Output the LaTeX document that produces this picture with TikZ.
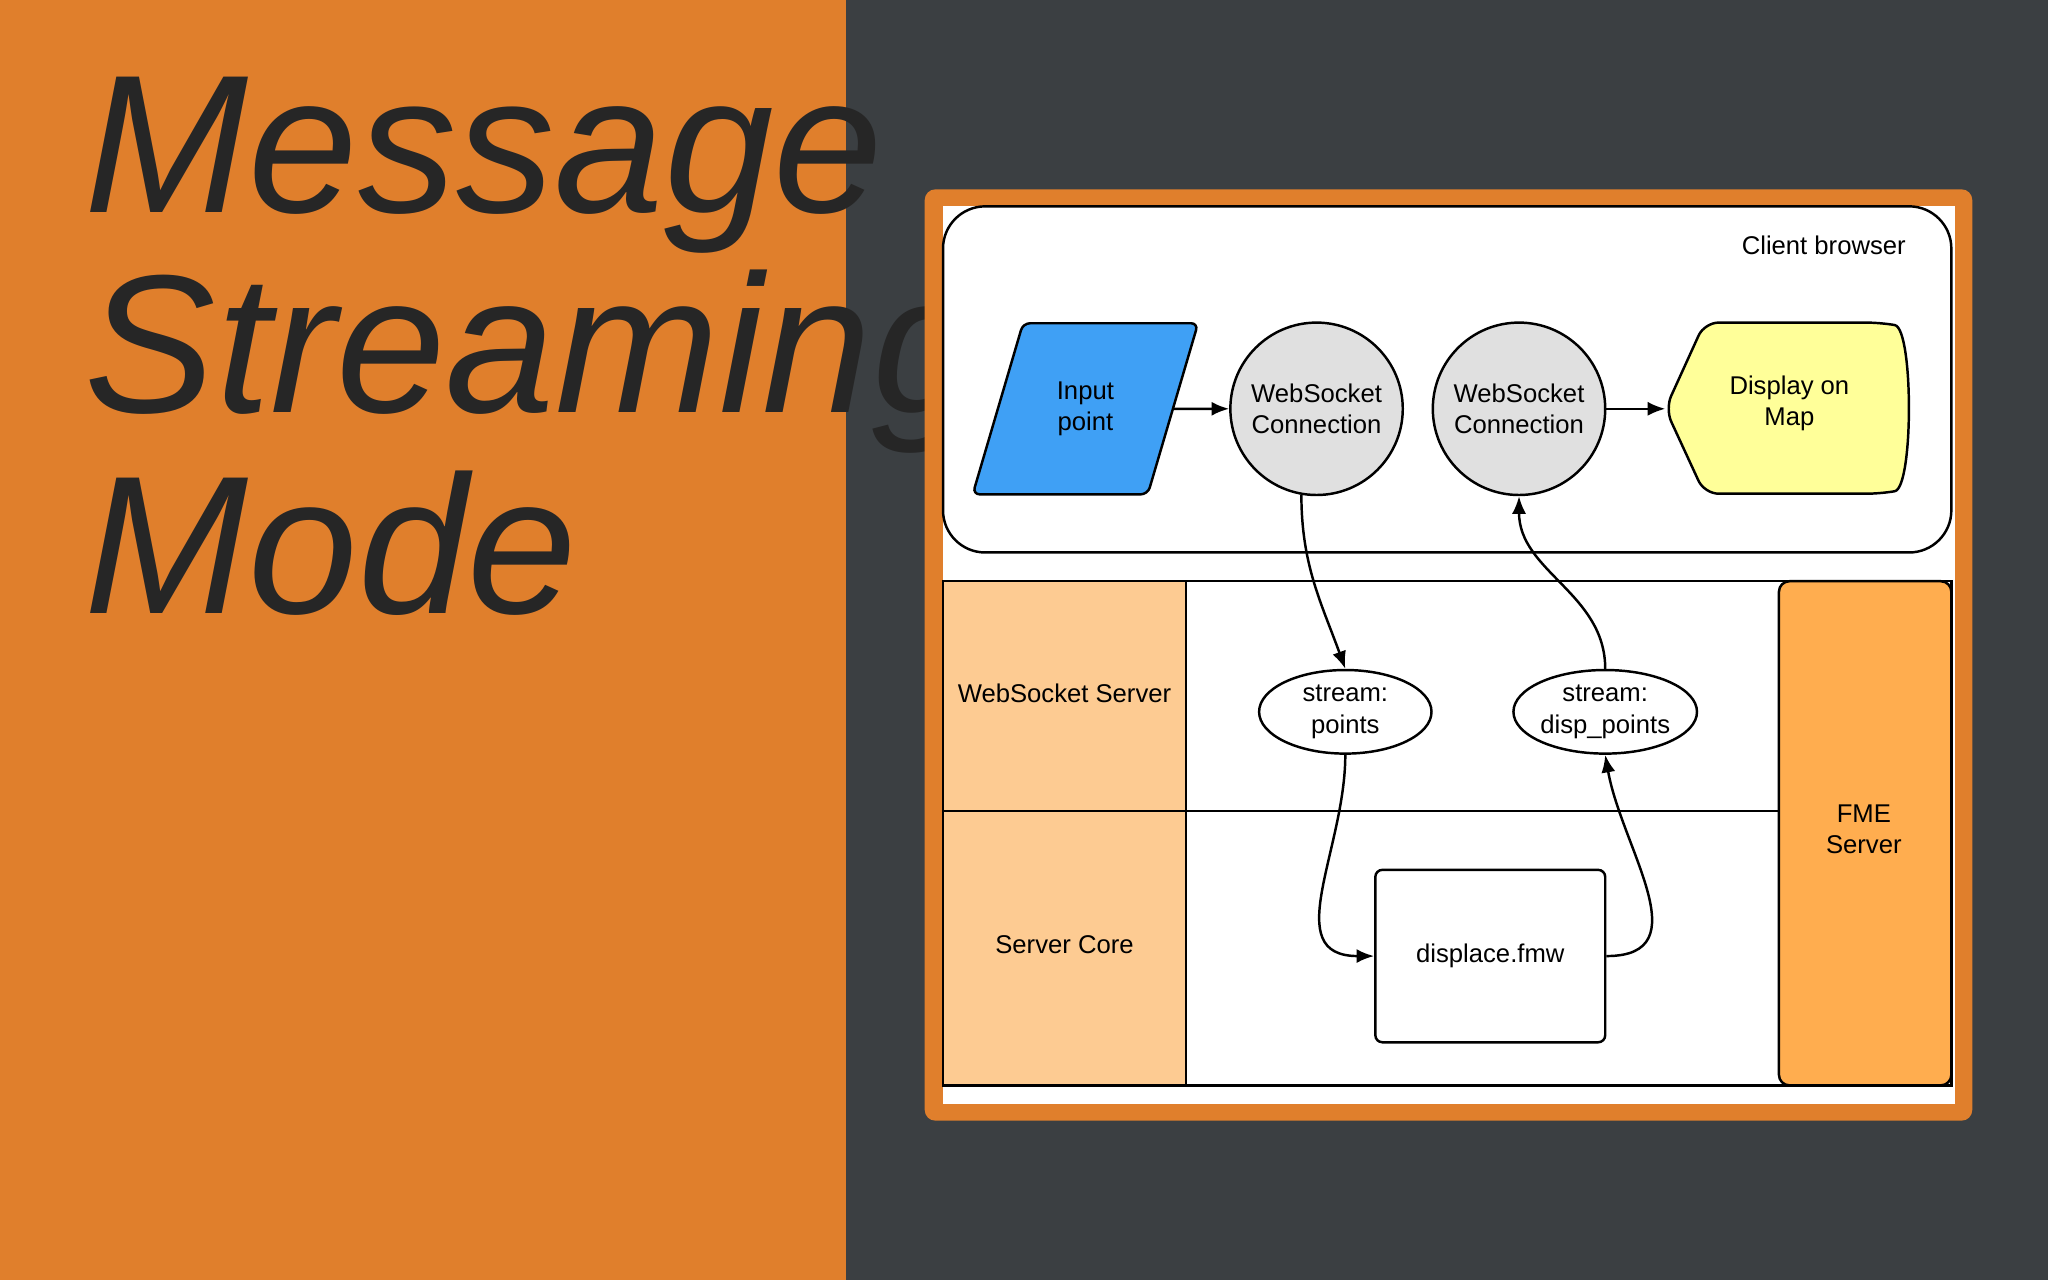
\documentclass[tikz,border=0pt]{standalone}
\usepackage{fontspec}
\setmainfont{Liberation Sans}
\usetikzlibrary{shapes.geometric,arrows.meta}
\definecolor{slideorange}{HTML}{E07F2C}
\definecolor{slidedark}{HTML}{3B3F42}
\definecolor{inputblue}{HTML}{3FA0F5}
\definecolor{conngray}{HTML}{E0E0E0}
\definecolor{mapyellow}{HTML}{FFFF99}
\definecolor{lanelight}{HTML}{FDCB92}
\definecolor{fmeorange}{HTML}{FFAD4F}
\newcommand{\px}{0.01306cm}

\begin{document}
\begin{tikzpicture}[x=\px, y=-\px, line width=0.7pt,
    txt/.style={font=\fontsize{7.3}{8.9}\selectfont, align=center},
    conn/.style={draw, circle, fill=conngray, minimum size=132*\px, inner sep=0pt, txt},
    stream/.style={draw, ellipse, fill=white, minimum width=132*\px, minimum height=64*\px, inner sep=0pt, txt},
    flow/.style={-{Latex[length=5pt,width=4pt]}}]
    \useasboundingbox (0,0) rectangle (1568,980);
    % Background
    \fill[slideorange] (0,0) rectangle (648,980);
    \fill[slidedark] (648,0) rectangle (1568,980);
    \node[anchor=west, text=black!85, font=\fontsize{56}{57}\selectfont\itshape, align=left] (title) at (55,265) {Message\\Streaming\\Mode};

    % Frame
    \fill[slideorange, rounded corners=3pt] (708,145) rectangle (1510,858);
    \fill[white] (722,158) rectangle (1497,845);

    % Client browser
    \draw[rounded corners=12pt] (722,158) rectangle (1494,423);
    \node[txt, anchor=east] (client) at (1469,188) {Client browser};
    \node[draw, trapezium, trapezium left angle=67, trapezium right angle=113, fill=inputblue, minimum width=173*\px, minimum height=131*\px, trapezium stretches=true, rounded corners=2pt, inner sep=0pt, txt] (input) at (831,313) {Input\\point};
    \node[conn] (ws1) at (1008,313) {WebSocket\\Connection};
    \node[conn] (ws2) at (1163,313) {WebSocket\\Connection};
    \draw[fill=mapyellow, rounded corners=4pt] (1275,313) -- (1305,247) -- (1440,247) to[out=-10,in=10,looseness=0.5] (1440,378) -- (1305,378) -- cycle;
    \node[txt] (map) at (1370,309) {Display on\\Map};
    \coordinate (mapin) at (1275,313);

    % Server lanes
    \fill[lanelight] (722,445) rectangle (908,831);
    \draw (722,445) rectangle (1494,831);
    \draw (908,445) -- (908,831);
    \draw (722,621) -- (1362,621);
    \draw[fill=fmeorange, rounded corners=3pt] (1362,445) rectangle (1494,831);
    \node[txt] (wss) at (815,531) {WebSocket Server};
    \node[txt] (core) at (815,723) {Server Core};
    \node[txt] (fme) at (1427,635) {FME\\Server};
    \node[stream] (points) at (1030,545) {stream:\\points};
    \node[stream] (disp) at (1229,545) {stream:\\disp\_points};
    \node[draw, rounded corners=2pt, minimum width=176*\px, minimum height=132*\px, txt] (fmw) at (1141,732) {displace.fmw};

    % Connectors
    \draw[flow] (input.east) -- (ws1.west);
    \draw[flow] (ws2.east) -- (mapin);
    \draw[flow] (ws1.-100) to[out=-90,in=110] (points.north);
    \draw[flow] (points.south) to[out=-90,in=180,looseness=1.2] (fmw.west);
    \draw[flow] (fmw.east) to[out=0,in=-80,looseness=1.2] (disp.south);
    \draw[flow] (disp.north) to[out=90,in=-90] (ws2.south);
\end{tikzpicture}
\end{document}
